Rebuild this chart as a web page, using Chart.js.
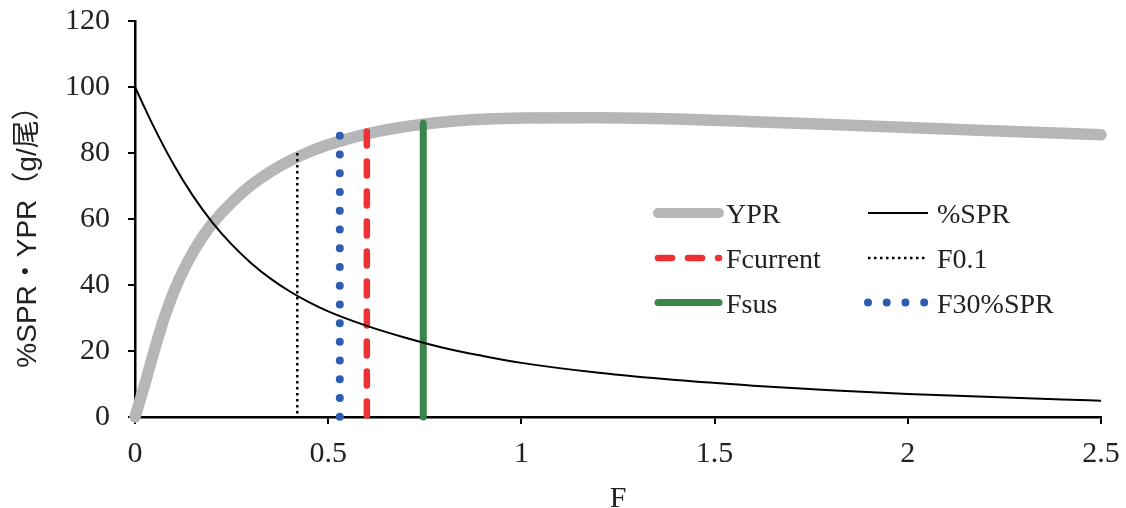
<!DOCTYPE html>
<html lang="ja">
<head>
<meta charset="UTF-8">
<title>YPR・%SPR</title>
<script src="https://cdn.jsdelivr.net/npm/chart.js@4.4.1/dist/chart.umd.min.js"></script>
<style>
  body { margin: 0; background: #fff; }
  #wrap { width: 1126px; height: 508px; }
</style>
</head>
<body>
<div id="wrap"><canvas id="chart" width="1126" height="508"></canvas></div>
<script>
// DATA
const yprF = [0, 0.025, 0.05, 0.075, 0.1, 0.125, 0.15, 0.175, 0.2, 0.25, 0.3, 0.35, 0.4, 0.45, 0.5, 0.6, 0.7, 0.8, 0.9, 1.0, 1.2, 1.4, 1.6, 1.8, 2.0, 2.2, 2.4, 2.5];
const yprValues = [0, 9.8, 20.2, 29.8, 37.8, 44.4, 49.9, 54.6, 58.6, 65, 70.2, 74.3, 77.6, 80.3, 82.5, 85.8, 88, 89.4, 90.2, 90.6, 90.7, 90.3, 89.5, 88.6, 87.7, 86.8, 86, 85.5];

const sprF = [0, 0.05, 0.1, 0.15, 0.2, 0.25, 0.3, 0.35, 0.4, 0.45, 0.5, 0.6, 0.7, 0.8, 0.9, 1.0, 1.2, 1.4, 1.6, 1.8, 2.0, 2.2, 2.4, 2.5];
const sprValues = [100, 87.6, 76.5, 67, 59, 52.3, 46.7, 42, 38.1, 34.8, 32, 27.6, 24, 20.9, 18.5, 16.4, 13.4, 11.2, 9.5, 8.1, 7.0, 6.1, 5.3, 4.95];

// reference points: F value and height of each vertical line
const refNames = ['Fcurrent', 'F0.1', 'Fsus', 'F30%SPR'];
const refF = [0.6, 0.42, 0.746, 0.53];
const refTop = [86.5, 80, 89, 85.2];

const xTicks = [0, 0.5, 1, 1.5, 2, 2.5];
const yTicks = [0, 20, 40, 60, 80, 100, 120];

const xTitle = 'F';
const yTitle = '%SPR・YPR（g/尾）';

const toPoints = (xs, ys) => xs.map((x, i) => ({ x: x, y: ys[i] }));
const vLine = i => [{ x: refF[i], y: refTop[i] }, { x: refF[i], y: 0 }];

const serif = '"Liberation Serif", "Times New Roman", serif';

// DATASETS (lower order = drawn on top)
const datasets = [
  {
    label: '%SPR', data: toPoints(sprF, sprValues),
    borderColor: '#000', borderWidth: 2, cubicInterpolationMode: 'monotone', order: 0
  },
  {
    label: refNames[0], data: vLine(0),
    borderColor: '#ee3135', borderWidth: 6.5, borderDash: [14, 16], borderCapStyle: 'round', order: 1
  },
  {
    label: refNames[3], data: vLine(3),
    borderColor: '#2d5db3', borderWidth: 8, borderDash: [0, 18.73], borderCapStyle: 'round', order: 2
  },
  {
    label: refNames[2], data: vLine(2),
    borderColor: '#3a8649', borderWidth: 7, borderCapStyle: 'round', order: 3
  },
  {
    label: refNames[1], data: vLine(1),
    borderColor: '#000', borderWidth: 2.5, borderDash: [2.5, 3.5], order: 4
  },
  {
    label: 'YPR', data: toPoints(yprF, yprValues),
    borderColor: '#b5b6b8', borderWidth: 11.5, borderCapStyle: 'round', cubicInterpolationMode: 'monotone', order: 5
  }
].map(ds => Object.assign({ pointRadius: 0, fill: false, clip: false }, ds));

// LEGEND + TITLES drawn inside the chart area
const legendRows = [['YPR', '%SPR'], ['Fcurrent', 'F0.1'], ['Fsus', 'F30%SPR']];
const legendRowY = [213, 258, 302.5];
const legendLineX = [[658, 719], [868, 928]];
const legendTextX = [726, 937];

const overlayPlugin = {
  id: 'overlay',
  afterDraw(chart) {
    const ctx = chart.ctx;
    ctx.save();

    legendRows.forEach((row, r) => {
      row.forEach((name, c) => {
        const ds = chart.data.datasets.find(d => d.label === name);
        const y = legendRowY[r];
        ctx.beginPath();
        ctx.strokeStyle = ds.borderColor;
        ctx.lineWidth = ds.label === 'YPR' ? 10 : ds.borderWidth;
        ctx.lineCap = ds.borderCapStyle || 'butt';
        ctx.setLineDash(ds.borderDash || []);
        ctx.moveTo(legendLineX[c][0], y);
        ctx.lineTo(legendLineX[c][1], y);
        ctx.stroke();

        ctx.setLineDash([]);
        ctx.fillStyle = '#222';
        ctx.font = '28px ' + serif;
        ctx.textAlign = 'left';
        ctx.textBaseline = 'alphabetic';
        ctx.fillText(name, legendTextX[c], y + 10);
      });
    });

    // y axis title
    ctx.fillStyle = '#222';
    ctx.font = '28px "Liberation Sans", "Noto Sans CJK JP", sans-serif';
    ctx.textAlign = 'center';
    ctx.textBaseline = 'alphabetic';
    ctx.translate(35.5, 230);
    ctx.rotate(-Math.PI / 2);
    ctx.fillText(yTitle, 0, 0);
    ctx.restore();

    // x axis title
    ctx.save();
    ctx.fillStyle = '#222';
    ctx.font = '30px ' + serif;
    ctx.textAlign = 'center';
    ctx.textBaseline = 'alphabetic';
    const a = chart.chartArea;
    ctx.fillText(xTitle, (a.left + a.right) / 2, 506.5);
    ctx.restore();
  }
};

const axisCommon = {
  type: 'linear',
  border: { display: true, color: '#000', width: 2.5 },
  grid: { drawOnChartArea: false, drawTicks: true, tickLength: 7, color: '#000', lineWidth: 2 },
  ticks: { color: '#222', font: { family: serif, size: 30, lineHeight: 1 }, callback: v => String(v) }
};

const chart = new Chart(document.getElementById('chart'), {
  type: 'line',
  data: { datasets: datasets },
  options: {
    responsive: false,
    animation: false,
    layout: { padding: { left: 0, top: 21, right: 25, bottom: 0 } },
    plugins: { legend: { display: false }, tooltip: { enabled: false } },
    scales: {
      x: Object.assign({}, axisCommon, {
        min: 0, max: 2.5,
        ticks: Object.assign({}, axisCommon.ticks, { padding: 15, maxRotation: 0 }),
        afterBuildTicks: axis => { axis.ticks = xTicks.map(v => ({ value: v })); },
        afterFit: axis => { axis.height = 91; axis.paddingLeft = 0; axis.paddingRight = 0; }
      }),
      y: Object.assign({}, axisCommon, {
        min: 0, max: 120,
        ticks: Object.assign({}, axisCommon.ticks, { padding: 18 }),
        afterBuildTicks: axis => { axis.ticks = yTicks.map(v => ({ value: v })); },
        afterFit: axis => { axis.width = 135; axis.paddingTop = 0; axis.paddingBottom = 0; }
      })
    }
  },
  plugins: [overlayPlugin]
});
</script>
</body>
</html>
